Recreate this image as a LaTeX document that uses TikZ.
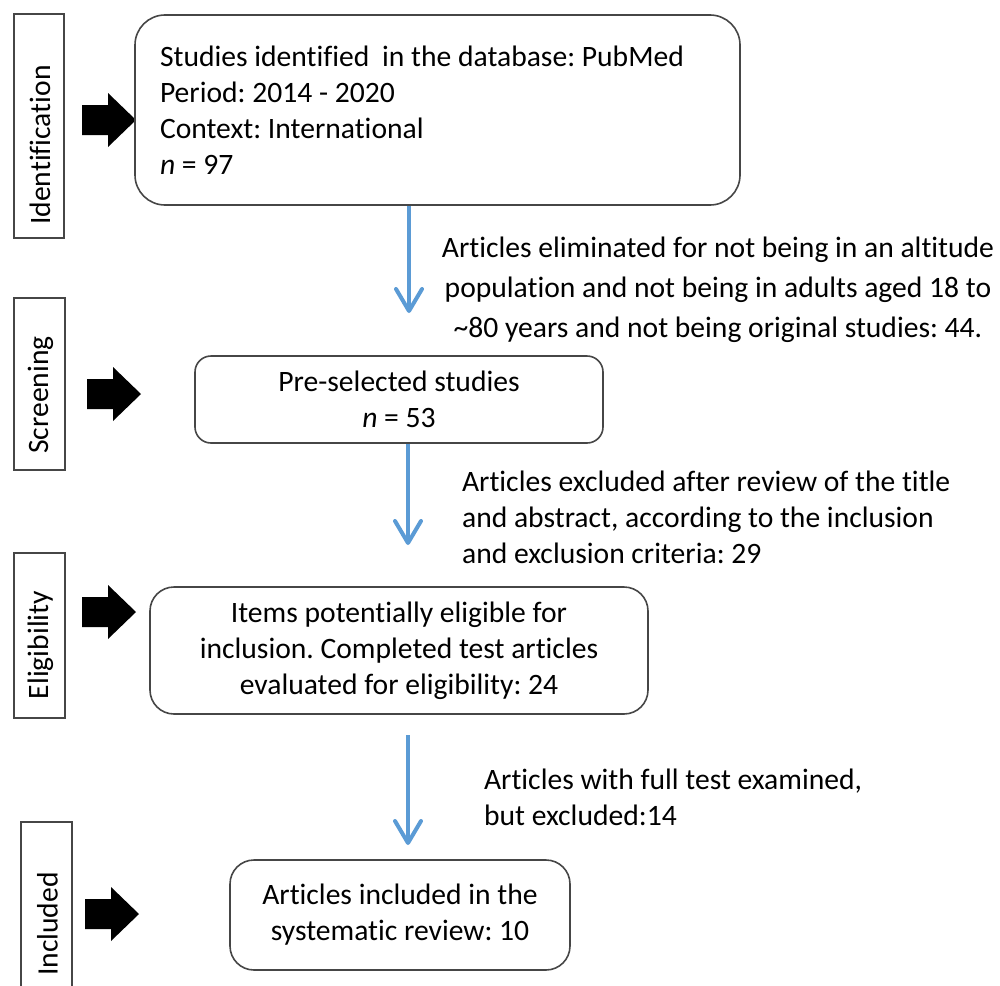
\documentclass[tikz,border=0pt]{standalone}
\usepackage{fontspec}
\setmainfont[Ligatures=NoCommon]{Carlito}
\usepackage{tikz}
\usetikzlibrary{arrows.meta}
\definecolor{flowblue}{RGB}{91,155,213}
\definecolor{edgegray}{RGB}{70,70,70}
\tikzset{stage/.style={draw=edgegray, line width=0.8pt, inner sep=0pt},
         stagetext/.style={rotate=90, inner sep=0pt},
         box/.style={draw=edgegray, line width=0.8pt, align=center, inner sep=0pt},
         flow/.style={draw=flowblue, line width=2pt,
         -{Straight Barb[length=11pt, width=13pt, line cap=round, line join=round]}}}
\frenchspacing

\begin{document}
\begin{tikzpicture}[x=0.5pt, y=-0.5pt, every node/.style={font=\fontsize{14.8}{18}\selectfont}]
        \useasboundingbox (0,0) rectangle (1000,985);
        
        % Stage labels
        \node[stage, minimum width=25pt, minimum height=112pt] (lblId) at (39,126) {};
        \node[stage, minimum width=25.5pt, minimum height=86pt] (lblScr) at (39.5,384) {};
        \node[stage, minimum width=25.5pt, minimum height=82.5pt] (lblElig) at (39.5,635.5) {};
        \node[stage, minimum width=25.5pt, minimum height=102pt] (lblIncl) at (46.5,924) {};
        \node[stagetext] (txtId) at (40,145) {Identification};
        \node[stagetext] (txtScr) at (40.5,395) {Screening};
        \node[stagetext] (txtElig) at (40.5,645) {Eligibility};
        \node[stagetext] (txtIncl) at (47.5,924) {Included};
        
        % Black block arrows
        \foreach \x/\y in {82/120, 87/394, 82/612, 85/914}
            \fill (\x,\y) ++(0,-15) -- ++(26,0) -- ++(0,-12) -- ++(28,27) -- ++(-28,27) -- ++(0,-12) -- ++(-26,0) -- cycle;
        
        % Boxes
        \node[box, rounded corners=15pt, minimum width=302.5pt, minimum height=95pt, text width=277.5pt, align=left] (boxId) at (437.5,110)
            {\spaceskip=0pt\xspaceskip=0pt Studies identified\hspace{3pt} in the database: PubMed\\ Period: 2014 - 2020\\ Context: International\\ \textit{n} = 97};
        \node[box, rounded corners=8pt, minimum width=204pt, minimum height=43.5pt] (boxScr) at (399,399.5)
            {Pre-selected studies\\ \textit{n} = 53};
        \node[box, rounded corners=12pt, minimum width=249pt, minimum height=63.5pt] (boxElig) at (399,650.5)
            {Items potentially eligible for\\ inclusion. Completed test articles\\ evaluated for eligibility: 24};
        \node[box, rounded corners=12pt, minimum width=170pt, minimum height=55pt] (boxIncl) at (400,915)
            {Articles included in the\\ systematic review: 10};
        
        % Side notes
        \node[align=center, font=\fontsize{14.8}{20}\selectfont] (noteScr) at (718,290)
            {Articles eliminated for not being in an altitude\\ population and not being in adults aged 18 to\\ \textasciitilde 80 years and not being original studies: 44.};
        \node[align=left, anchor=west] (noteElig) at (455,517)
            {Articles excluded after review of the title\\ and abstract, according to the inclusion\\ and exclusion criteria: 29};
        \node[align=left, anchor=west] (noteIncl) at (477,797)
            {Articles with full test examined,\\ but excluded:14};
        
        % Flow arrows
        \coordinate (tipA) at (409,313);
        \coordinate (tipB) at (408,545);
        \coordinate (fromC) at (408,735);
        \coordinate (tipC) at (408,845);
        \draw[flow] (boxId.south -| tipA) -- (tipA);
        \draw[flow] (boxScr.south -| tipB) -- (tipB);
        \draw[flow] (fromC) -- (tipC);
        
    \end{tikzpicture}
\end{document}
